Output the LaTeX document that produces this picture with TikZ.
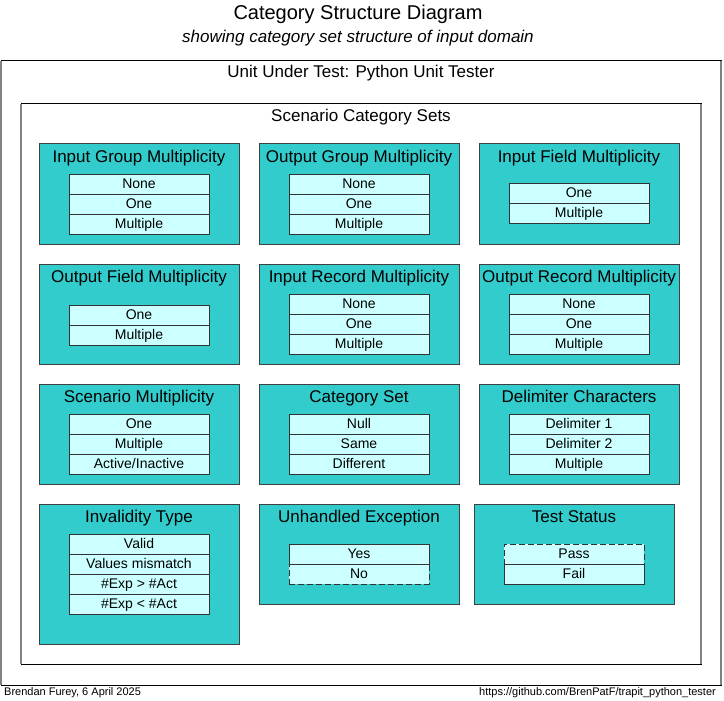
\documentclass[tikz,border=0pt]{standalone}
\usepackage{fontspec}
\setmainfont{Liberation Sans}
\usetikzlibrary{positioning}
\definecolor{catteal}{RGB}{51,204,204}
\definecolor{cellcyan}{RGB}{204,255,255}
\definecolor{edgegray}{RGB}{130,130,130}
\tikzset{
  frame/.style={draw=black, fill=white, line width=1pt, inner sep=0pt, outer sep=0pt},
  frameside/.style={draw=edgegray, line width=1.6pt},
  catbox/.style={draw=black!75, fill=catteal, line width=1pt, minimum width=200pt, minimum height=100pt, inner sep=0pt, outer sep=0pt},
  cattitle/.style={anchor=base, font=\fontsize{17}{19}\selectfont, inner sep=0pt},
  cell/.style={draw=black!80, fill=cellcyan, line width=0.9pt, minimum width=140pt, minimum height=20pt, inner sep=0pt, outer sep=0pt, text height=11pt, text depth=2pt, font=\fontsize{14}{16}\selectfont},
  dashcell/.style={cell, dashed, dash pattern=on 6pt off 3pt},
  footer/.style={font=\fontsize{11}{13}\selectfont, inner sep=0pt}
}
\begin{document}
\begin{tikzpicture}[x=1pt, y=-1pt]
    \useasboundingbox (0,0) rectangle (724,701);
    % headings
    \node[font=\fontsize{20}{22}\selectfont] (title) at (358,14) {Category Structure Diagram};
    \node[font=\fontsize{17}{19}\selectfont\itshape] (subtitle) at (358,38) {showing category set structure of input domain};
    % frames
    \node[frame, minimum width=720pt, minimum height=624pt] (uut) at (361,373) {};
    \draw[frameside] (uut.north west) -- (uut.south west);
    \draw[frameside] (uut.north east) -- (uut.south east);
    \node[font=\fontsize{17}{19}\selectfont] (uutlabel) at (361,73) {Unit Under Test: Python Unit Tester};
    \node[frame, minimum width=680pt, minimum height=560pt] (scs) at (361,384) {};
    \draw[frameside] (scs.north west) -- (scs.south west);
    \draw[frameside] (scs.north east) -- (scs.south east);
    \node[font=\fontsize{17}{19}\selectfont] (scslabel) at (361,117) {Scenario Category Sets};
    % row 1
    \node[catbox] (igm) at (139,194) {};
    \node[cattitle] (igmT) at ([yshift=-18pt]igm.north) {Input Group Multiplicity};
    \node[cell, anchor=north] (igm1) at ([yshift=-30pt]igm.north) {None};
    \node[cell, below=0pt of igm1] (igm2) {One};
    \node[cell, below=0pt of igm2] (igm3) {Multiple};
    \node[catbox] (ogm) at (359,194) {};
    \node[cattitle] (ogmT) at ([yshift=-18pt]ogm.north) {Output Group Multiplicity};
    \node[cell, anchor=north] (ogm1) at ([yshift=-30pt]ogm.north) {None};
    \node[cell, below=0pt of ogm1] (ogm2) {One};
    \node[cell, below=0pt of ogm2] (ogm3) {Multiple};
    \node[catbox] (ifm) at (579,194) {};
    \node[cattitle] (ifmT) at ([yshift=-18pt]ifm.north) {Input Field Multiplicity};
    \node[cell, anchor=north] (ifm1) at ([yshift=-39pt]ifm.north) {One};
    \node[cell, below=0pt of ifm1] (ifm2) {Multiple};
    % row 2
    \node[catbox] (ofm) at (139,314) {};
    \node[cattitle] (ofmT) at ([yshift=-18pt]ofm.north) {Output Field Multiplicity};
    \node[cell, anchor=north] (ofm1) at ([yshift=-41pt]ofm.north) {One};
    \node[cell, below=0pt of ofm1] (ofm2) {Multiple};
    \node[catbox] (irm) at (359,314) {};
    \node[cattitle] (irmT) at ([yshift=-18pt]irm.north) {Input Record Multiplicity};
    \node[cell, anchor=north] (irm1) at ([yshift=-30pt]irm.north) {None};
    \node[cell, below=0pt of irm1] (irm2) {One};
    \node[cell, below=0pt of irm2] (irm3) {Multiple};
    \node[catbox] (orm) at (579,314) {};
    \node[cattitle] (ormT) at ([yshift=-18pt]orm.north) {Output Record Multiplicity};
    \node[cell, anchor=north] (orm1) at ([yshift=-30pt]orm.north) {None};
    \node[cell, below=0pt of orm1] (orm2) {One};
    \node[cell, below=0pt of orm2] (orm3) {Multiple};
    % row 3
    \node[catbox] (scm) at (139,434) {};
    \node[cattitle] (scmT) at ([yshift=-18pt]scm.north) {Scenario Multiplicity};
    \node[cell, anchor=north] (scm1) at ([yshift=-30pt]scm.north) {One};
    \node[cell, below=0pt of scm1] (scm2) {Multiple};
    \node[cell, below=0pt of scm2] (scm3) {Active/Inactive};
    \node[catbox] (cset) at (359,434) {};
    \node[cattitle] (csetT) at ([yshift=-18pt]cset.north) {Category Set};
    \node[cell, anchor=north] (cset1) at ([yshift=-30pt]cset.north) {Null};
    \node[cell, below=0pt of cset1] (cset2) {Same};
    \node[cell, below=0pt of cset2] (cset3) {Different};
    \node[catbox] (dlm) at (579,434) {};
    \node[cattitle] (dlmT) at ([yshift=-18pt]dlm.north) {Delimiter Characters};
    \node[cell, anchor=north] (dlm1) at ([yshift=-30pt]dlm.north) {Delimiter 1};
    \node[cell, below=0pt of dlm1] (dlm2) {Delimiter 2};
    \node[cell, below=0pt of dlm2] (dlm3) {Multiple};
    % row 4
    \node[catbox, minimum height=140pt] (ivt) at (139,574) {};
    \node[cattitle] (ivtT) at ([yshift=-18pt]ivt.north) {Invalidity Type};
    \node[cell, anchor=north] (ivt1) at ([yshift=-30pt]ivt.north) {Valid};
    \node[cell, below=0pt of ivt1] (ivt2) {Values mismatch};
    \node[cell, below=0pt of ivt2] (ivt3) {\#Exp > \#Act};
    \node[cell, below=0pt of ivt3] (ivt4) {\#Exp < \#Act};
    \node[catbox] (uex) at (359,554) {};
    \node[cattitle] (uexT) at ([yshift=-18pt]uex.north) {Unhandled Exception};
    \node[dashcell, anchor=north] (uex2) at ([yshift=-60pt]uex.north) {No};
    \node[cell, above=0pt of uex2] (uex1) {Yes};
    \node[catbox] (tst) at (574,554) {};
    \node[cattitle] (tstT) at ([yshift=-18pt]tst.north) {Test Status};
    \node[dashcell, anchor=north] (tst1) at ([yshift=-40pt]tst.north) {Pass};
    \node[cell, below=0pt of tst1] (tst2) {Fail};
    % footers
    \node[footer, anchor=west] (author) at (4,693) {Brendan Furey, 6 April 2025};
    \node[footer, anchor=east] (repo) at (716,693) {https://github.com/BrenPatF/trapit\_python\_tester};
\end{tikzpicture}
\end{document}
